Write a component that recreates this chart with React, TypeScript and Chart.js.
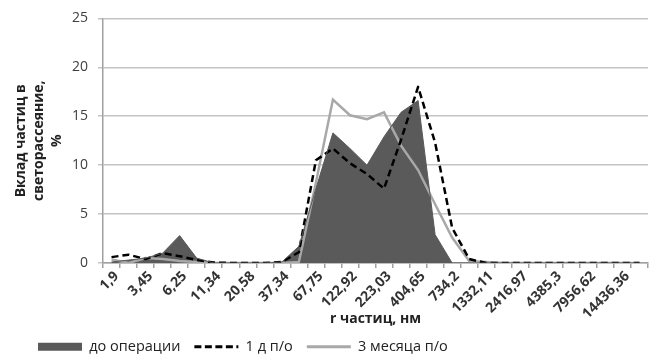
import React, { useEffect, useRef } from 'react';
import { Chart, registerables } from 'chart.js';

Chart.register(...registerables);

// Particle radius categories (every other category is labelled, as in the reference)
const categories = [
  '1,9', '', '3,45', '', '6,25', '', '11,34', '', '20,58', '', '37,34', '',
  '67,75', '', '122,92', '', '223,03', '', '404,65', '', '734,2', '',
  '1332,11', '', '2416,97', '', '4385,3', '', '7956,62', '', '14436,36', '',
];

// Contribution to light scattering, %
const beforeSurgery = [
  0.1, 0.3, 0.5, 1.0, 2.8, 0.5, 0, 0, 0, 0,
  0.1, 1.7, 7.6, 13.3, 11.7, 10.0, 12.9, 15.4, 16.6, 2.9,
  0, 0, 0, 0, 0, 0, 0, 0, 0, 0, 0, 0,
];
const day1 = [
  0.6, 0.85, 0.4, 1.0, 0.7, 0.3, 0.05, 0, 0, 0,
  0.1, 1.1, 10.5, 11.7, 10.2, 9.1, 7.6, 12.6, 18.0, 12.3,
  3.6, 0.4, 0, 0, 0, 0, 0, 0, 0, 0, 0, 0,
];
const month3 = [
  0.35, 0, 0.5, 0.4, 0.2, 0.1, 0, 0, 0, 0,
  0, 0.1, 8.2, 16.7, 15.1, 14.7, 15.4, 12.0, 9.5, 6.0,
  2.6, 0.2, 0.1, 0, 0, 0, 0, 0, 0, 0, 0, 0,
];

const seriesNames = ['до операции', '1 д п/о', '3 месяца п/о'];
const yTicks = [0, 5, 10, 15, 20, 25];
const yTitle = ['Вклад частиц в', 'светорассеяние,', '%'];
const xTitle = 'r частиц, нм';

const DARK = '#5a5a5a';
const BLACK = '#000000';
const LIGHT = '#a8a8a8';
const GRID = '#c4c4c4';
const AXIS = '#a0a0a0';

export default function App() {
  const ref = useRef<HTMLCanvasElement | null>(null);

  useEffect(() => {
    document.body.style.margin = '0';
    if (!ref.current) return;
    Chart.defaults.font.family = "'Open Sans', 'Noto Sans', sans-serif";

    const chart = new Chart(ref.current, {
      type: 'line',
      data: {
        labels: categories,
        datasets: [
          {
            label: seriesNames[0],
            data: beforeSurgery,
            fill: 'origin',
            backgroundColor: DARK,
            borderColor: DARK,
            borderWidth: 1,
            pointRadius: 0,
            tension: 0,
          },
          {
            label: seriesNames[1],
            data: day1,
            fill: false,
            borderColor: BLACK,
            borderWidth: 2.5,
            borderDash: [7, 4],
            borderJoinStyle: 'round',
            pointRadius: 0,
            tension: 0,
          },
          {
            label: seriesNames[2],
            data: month3,
            fill: false,
            borderColor: LIGHT,
            borderWidth: 2.5,
            pointRadius: 0,
            tension: 0,
          },
        ],
      },
      options: {
        animation: false,
        responsive: true,
        maintainAspectRatio: false,
        layout: { padding: { left: 24, right: 8, top: 13, bottom: -10 } },
        scales: {
          x: {
            type: 'category',
            offset: true,
            grid: {
              display: true,
              offset: true,
              drawOnChartArea: false,
              drawTicks: true,
              tickLength: 5,
              color: AXIS,
              lineWidth: 1.5,
            },
            border: { display: true, color: AXIS, width: 1.5 },
            ticks: {
              autoSkip: false,
              minRotation: 45,
              maxRotation: 45,
              padding: 0,
              labelOffset: 5,
              color: '#333333',
              font: { size: 14, weight: 'bold' },
            },
            title: {
              display: true,
              text: xTitle,
              color: '#222222',
              font: { size: 14, weight: 'bold' },
              padding: { top: 0, bottom: -2 },
            },
            afterFit: (scale: any) => {
              scale.height = 62.5;
            },
          },
          y: {
            min: 0,
            max: 25,
            afterBuildTicks: (scale: any) => {
              scale.ticks = yTicks.map((v) => ({ value: v }));
            },
            grid: {
              color: GRID,
              lineWidth: 1.5,
              tickLength: 5,
              drawTicks: true,
            },
            border: { display: true, color: AXIS, width: 1.5 },
            ticks: {
              padding: 10,
              color: '#404040',
              font: { size: 14 },
            },
            title: {
              display: true,
              text: yTitle,
              color: '#222222',
              font: { size: 14, weight: 'bold', lineHeight: 1.3 },
              padding: { top: -12, bottom: 5 },
            },
            afterFit: (scale: any) => {
              scale.width = 79;
            },
          },
        },
        plugins: {
          filler: { drawTime: 'beforeDatasetsDraw' },
          tooltip: { enabled: false },
          legend: {
            display: true,
            position: 'bottom',
            align: 'start',
            labels: {
              usePointStyle: true,
              pointStyleWidth: 44,
              boxHeight: 8,
              padding: 14,
              color: '#222222',
              font: { size: 14.5 },
              generateLabels: (c: any) =>
                c.data.datasets.map((ds: any, i: number) => ({
                  text: ds.label,
                  datasetIndex: i,
                  hidden: false,
                  fontColor: '#222222',
                  fillStyle: i === 0 ? DARK : 'transparent',
                  strokeStyle: i === 0 ? DARK : ds.borderColor,
                  lineWidth: i === 0 ? 0 : 3,
                  lineDash: i === 1 ? [7, 3.5] : [],
                  lineCap: 'butt',
                  pointStyle: i === 0 ? 'rect' : 'line',
                })),
            },
          },
        },
      },
    });

    return () => chart.destroy();
  }, []);

  return (
    <div style={{ width: 656, height: 354, position: 'relative' }}>
      <canvas ref={ref} />
    </div>
  );
}
